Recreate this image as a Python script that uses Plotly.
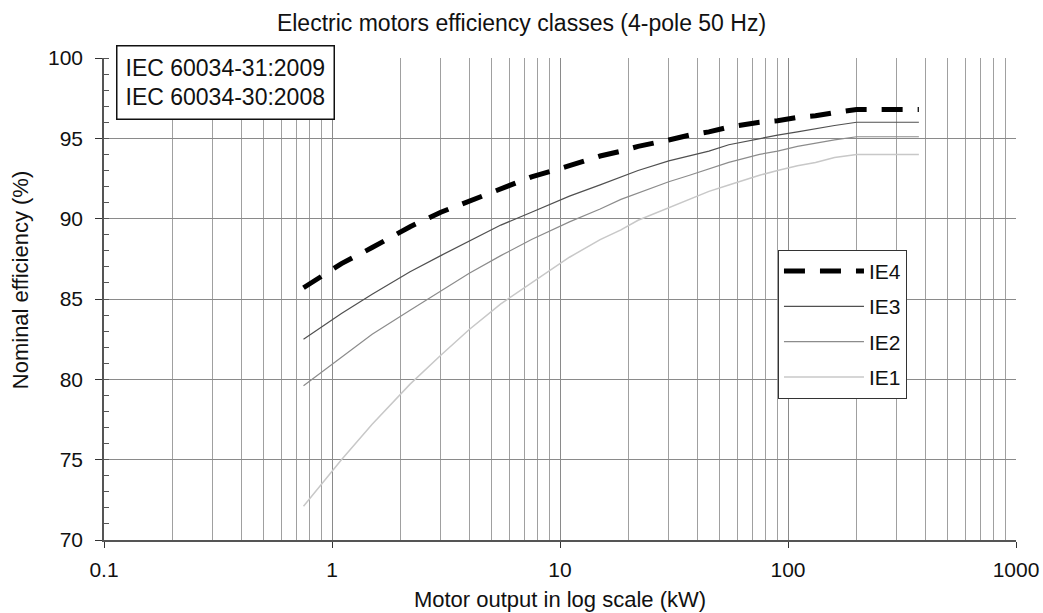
import plotly.graph_objects as go

power = [0.75, 1.1, 1.5, 2.2, 3, 4, 5.5, 7.5, 11, 15, 18.5, 22, 30, 37, 45, 55, 75, 90, 110, 132, 160, 200, 375]
ie1 = [72.1, 75.0, 77.2, 79.7, 81.5, 83.1, 84.7, 86.0, 87.6, 88.7, 89.3, 89.9, 90.7, 91.2, 91.7, 92.1, 92.7, 93.0, 93.3, 93.5, 93.8, 94.0, 94.0]
ie2 = [79.6, 81.4, 82.8, 84.3, 85.5, 86.6, 87.7, 88.7, 89.8, 90.6, 91.2, 91.6, 92.3, 92.7, 93.1, 93.5, 94.0, 94.2, 94.5, 94.7, 94.9, 95.1, 95.1]
ie3 = [82.5, 84.1, 85.3, 86.7, 87.7, 88.6, 89.6, 90.4, 91.4, 92.1, 92.6, 93.0, 93.6, 93.9, 94.2, 94.6, 95.0, 95.2, 95.4, 95.6, 95.8, 96.0, 96.0]
ie4 = [85.7, 87.2, 88.2, 89.5, 90.4, 91.1, 91.9, 92.6, 93.3, 93.9, 94.2, 94.5, 94.9, 95.2, 95.4, 95.7, 96.0, 96.1, 96.3, 96.4, 96.6, 96.8, 96.8]

x_major = [0.1, 1, 10, 100, 1000]
x_major_text = ["0.1", "1", "10", "100", "1000"]
x_minor = [m * d for d in [0.1, 1, 10, 100] for m in range(2, 10)]

FONT = "Liberation Sans, Arial, sans-serif"

fig = go.Figure()
fig.add_trace(go.Scatter(x=power, y=ie4, mode="lines", name="IE4", legendgroup="a",
                         line=dict(color="black", width=5, dash="21px,15px")))
fig.add_trace(go.Scatter(x=power, y=ie3, mode="lines", name="IE3", legendgroup="b",
                         line=dict(color="#505050", width=1.2)))
fig.add_trace(go.Scatter(x=power, y=ie2, mode="lines", name="IE2", legendgroup="c",
                         line=dict(color="#8c8c8c", width=1.2)))
fig.add_trace(go.Scatter(x=power, y=ie1, mode="lines", name="IE1", legendgroup="d",
                         line=dict(color="#c8c8c8", width=1.5)))

fig.update_layout(
    width=1043, height=613,
    margin=dict(l=104, r=27, t=58, b=73, autoexpand=False),
    paper_bgcolor="white", plot_bgcolor="white",
    font=dict(family=FONT, size=21, color="#111"),
    title=dict(text="Electric motors efficiency classes (4-pole 50 Hz)", x=0.5, xanchor="center",
               y=0.963, yanchor="middle", font=dict(size=23, family=FONT, color="#111")),
    xaxis=dict(type="log", range=[-1, 3], tickvals=x_major, ticktext=x_major_text,
               ticks="outside", ticklen=6, tickcolor="#333", ticklabelstandoff=4,
               automargin=False,
               showgrid=True, gridcolor="#8a8a8a", gridwidth=1,
               showline=True, linecolor="#555", linewidth=1.5, zeroline=False,
               minor=dict(tickvals=x_minor, showgrid=True, gridcolor="#a0a0a0", gridwidth=1, ticks=""),
               title=dict(text="Motor output in log scale (kW)", standoff=12, font=dict(size=22)),
               tickfont=dict(size=21)),
    yaxis=dict(range=[70, 100], dtick=5, ticks="outside", ticklen=7, tickcolor="#333",
               ticklabelstandoff=8, automargin=False,
               showgrid=True, gridcolor="#8a8a8a", gridwidth=1,
               showline=True, linecolor="#555", linewidth=1.5, zeroline=False,
               minor=dict(dtick=1, ticks="inside", ticklen=5, tickcolor="#555", showgrid=False),
               tickfont=dict(size=21)),
    legend=dict(x=0.739, xanchor="left", y=0.602, yanchor="top",
                bgcolor="white", bordercolor="#333", borderwidth=1,
                font=dict(size=21, family=FONT), tracegroupgap=5,
                itemwidth=80),
    showlegend=True,
)

fig.add_annotation(x=0, y=0.539, xref="paper", yref="paper", xshift=-84,
                   xanchor="center", yanchor="middle", textangle=-90,
                   text="Nominal efficiency (%)", showarrow=False,
                   font=dict(size=22, family=FONT, color="#111"))

fig.add_annotation(x=0, y=1.027, xref="paper", yref="paper", xshift=12,
                   xanchor="left", yanchor="top", align="left",
                   text="IEC 60034-31:2009<br>IEC 60034-30:2008",
                   showarrow=False, bgcolor="white", bordercolor="#111", borderwidth=1.5,
                   borderpad=8, font=dict(size=23, family=FONT, color="#111"))

fig.write_html("out.html")
